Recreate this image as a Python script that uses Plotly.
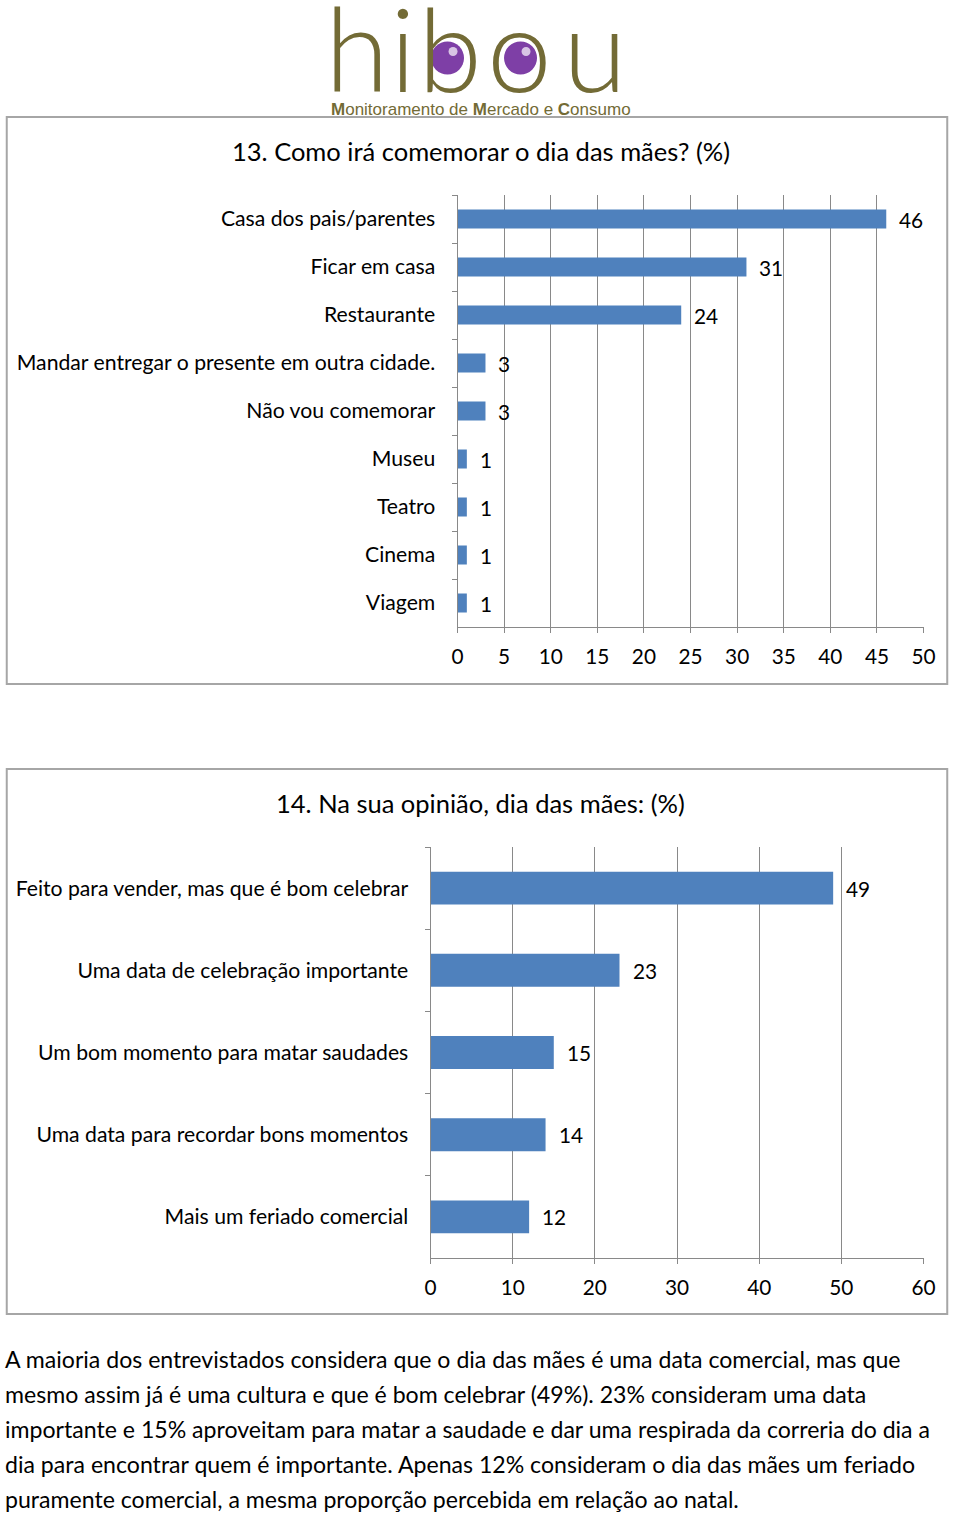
import plotly.graph_objects as go

# ---------------- data ----------------
q13_title = "13. Como irá comemorar o dia das mães? (%)"
q13_categories = ["Casa dos pais/parentes", "Ficar em casa", "Restaurante",
                  "Mandar entregar o presente em outra cidade.", "Não vou comemorar",
                  "Museu", "Teatro", "Cinema", "Viagem"]
q13_values = [46, 31, 24, 3, 3, 1, 1, 1, 1]
q13_ticks = [0, 5, 10, 15, 20, 25, 30, 35, 40, 45, 50]

q14_title = "14. Na sua opinião, dia das mães: (%)"
q14_categories = ["Feito para vender, mas que é bom celebrar",
                  "Uma data de celebração importante",
                  "Um bom momento para matar saudades",
                  "Uma data para recordar bons momentos",
                  "Mais um feriado comercial"]
q14_values = [49, 23, 15, 14, 12]
q14_ticks = [0, 10, 20, 30, 40, 50, 60]

paragraph_lines = [
    "A maioria dos entrevistados considera que o dia das mães é uma data comercial, mas que",
    "mesmo assim já é uma cultura e que é bom celebrar (49%). 23% consideram uma data",
    "importante e 15% aproveitam para matar a saudade e dar uma respirada da correria do dia a",
    "dia para encontrar quem é importante. Apenas 12% consideram o dia das mães um feriado",
    "puramente comercial, a mesma proporção percebida em relação ao natal.",
]

logo_letters = ["h", "i", "b", "o", "u"]
logo_sub = "<b>M</b>onitoramento de <b>M</b>ercado e <b>C</b>onsumo"

# ---------------- layout helpers ----------------
W, H = 960, 1514
FONT = "Lato"
BAR = "#4F81BD"
GRID = "#898989"
BOX = "#A6A6A6"
OLIVE = "#736B36"


def py(y):
    return 1 - y / H


def px(x):
    # horizontal position in the photographed picture -> paper fraction
    t = (x - 5.5) / 0.9812
    return min(max(t / W, 0.0), 1.0)


fig = go.Figure()

fig.add_trace(go.Bar(x=q13_values, y=q13_categories, orientation="h",
                     marker=dict(color=BAR, line=dict(width=0)),
                     xaxis="x", yaxis="y", showlegend=False, hoverinfo="x+y"))
fig.add_trace(go.Bar(x=q14_values, y=q14_categories, orientation="h",
                     marker=dict(color=BAR, line=dict(width=0)),
                     xaxis="x2", yaxis="y2", showlegend=False, hoverinfo="x+y"))

annotations = []
for c, v in zip(q13_categories, q13_values):
    annotations.append(dict(x=v, y=c, xref="x", yref="y", text=str(v), showarrow=False,
                            xanchor="left", xshift=11, font=dict(size=20.8, color="black", family=FONT)))
for c, v in zip(q14_categories, q14_values):
    annotations.append(dict(x=v, y=c, xref="x2", yref="y2", text=str(v), showarrow=False,
                            xanchor="left", xshift=11, font=dict(size=20.8, color="black", family=FONT)))

annotations.append(dict(x=px(480), y=py(151), xref="paper", yref="paper", text=q13_title,
                        showarrow=False, xanchor="center", yanchor="middle",
                        font=dict(size=25.5, color="black", family=FONT)))
annotations.append(dict(x=px(480), y=py(803), xref="paper", yref="paper", text=q14_title,
                        showarrow=False, xanchor="center", yanchor="middle",
                        font=dict(size=25.5, color="black", family=FONT)))

for i, line in enumerate(paragraph_lines):
    annotations.append(dict(x=0, y=py(1358.5 + 35 * i), xref="paper", yref="paper", text=line,
                            showarrow=False, xanchor="left", yanchor="middle", xshift=-3,
                            font=dict(size=23.1, color="black", family=FONT)))

# logo letters, each placed individually
letter_x = [356, 402, 449, 519, 594]
for ch, lx in zip(logo_letters, letter_x):
    annotations.append(dict(x=px(lx), y=py(93), xref="paper", yref="paper", text=ch,
                            showarrow=False, xanchor="center", yanchor="bottom", yshift=-26,
                            font=dict(size=116, color=OLIVE, family=FONT, weight=300)))
annotations.append(dict(x=px(480), y=py(109), xref="paper", yref="paper", text=logo_sub,
                        showarrow=False, xanchor="center", yanchor="middle",
                        font=dict(size=17, color=OLIVE, family="Liberation Sans")))

shapes = [
    dict(type="rect", xref="paper", yref="paper", x0=0.0008, x1=0.9992, y0=py(684), y1=py(117),
         line=dict(color=BOX, width=2), fillcolor="rgba(0,0,0,0)", layer="below"),
    dict(type="rect", xref="paper", yref="paper", x0=0.0008, x1=0.9992, y0=py(1314), y1=py(769),
         line=dict(color=BOX, width=2), fillcolor="rgba(0,0,0,0)", layer="below"),
]
# purple eyes of the logo
for cx in (447, 520):
    shapes.append(dict(type="circle", xref="paper", yref="paper",
                       x0=px(cx - 16.5), x1=px(cx + 16.5), y0=py(74.5), y1=py(41.5),
                       fillcolor="#7E3FA6", line=dict(width=0), layer="above"))
    shapes.append(dict(type="circle", xref="paper", yref="paper",
                       x0=px(cx + 1), x1=px(cx + 10), y0=py(56), y1=py(47),
                       fillcolor="rgba(255,255,255,0.7)", line=dict(width=0), layer="above"))

axis_common = dict(showgrid=True, gridcolor=GRID, gridwidth=1, showline=True, linecolor=GRID,
                   linewidth=1, ticks="outside", tickcolor=GRID, ticklen=5, zeroline=False,
                   tickfont=dict(size=20.8, color="black", family=FONT))
yaxis_common = dict(autorange="reversed", showgrid=False, showline=True, linecolor=GRID,
                    linewidth=1, ticks="outside", tickcolor=GRID, ticklen=5,
                    tickson="boundaries", ticklabelstandoff=17,
                    tickfont=dict(size=21.2, color="black", family=FONT))

fig.update_layout(
    width=W, height=H, margin=dict(l=0, r=0, t=0, b=0, pad=0),
    paper_bgcolor="white", plot_bgcolor="white",
    bargap=0.6, showlegend=False,
    font=dict(family=FONT, color="black"),
    xaxis=dict(domain=[px(457), px(923)], range=[0, 50], tickvals=q13_ticks, anchor="y",
               ticklabelstandoff=6, **axis_common),
    yaxis=dict(domain=[py(627), py(195)], anchor="x", **yaxis_common),
    xaxis2=dict(domain=[px(430), px(923)], range=[0, 60], tickvals=q14_ticks, anchor="y2",
                ticklabelstandoff=6, **axis_common),
    yaxis2=dict(domain=[py(1258), py(847)], anchor="x2", **yaxis_common),
    annotations=annotations,
    shapes=shapes,
)

fig.write_html("out.html")
